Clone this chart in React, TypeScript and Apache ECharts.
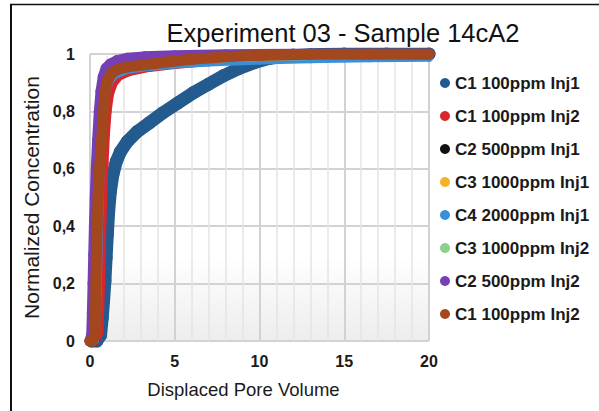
import React, { useEffect, useRef } from "react";
import * as echarts from "echarts";

const titleText = "Experiment 03 - Sample 14cA2";
const xAxisName = "Displaced Pore Volume";
const yAxisName = "Normalized Concentration";
const xMin = 0, xMax = 20, xStep = 5;
const yMin = 0, yMax = 1, yStep = 0.2;

const seriesNames = [
  "C1 100ppm Inj1",
  "C1 100ppm Inj2",
  "C2 500ppm Inj1",
  "C3 1000ppm Inj1",
  "C4 2000ppm Inj1",
  "C3 1000ppm Inj2",
  "C2 500ppm Inj2",
  "C1 100ppm Inj2\u200b",
];
const seriesColors = ["#245b8e", "#d9262c", "#111111", "#f5b323", "#3b8fd8", "#8cd08a", "#7440b3", "#a3471f"];

// [displaced pore volume, normalized concentration]
const c1Inj1 = [[0.1,0],[0.4,0],[0.62,0.02],[0.72,0.08],[0.8,0.14],[0.88,0.21],[0.95,0.29],[1.02,0.37],[1.1,0.45],[1.2,0.52],[1.35,0.58],[1.55,0.625],[1.8,0.66],[2.2,0.695],[2.8,0.73],[3.5,0.76],[4.3,0.795],[5.2,0.83],[6.1,0.865],[7,0.895],[7.9,0.925],[8.8,0.95],[9.7,0.97],[10.6,0.985],[11.6,0.993],[13,0.997],[15,1],[17.5,1],[20,1]];
const c1Inj2 = [[0,0],[0.3,0],[0.5,0.03],[0.55,0.12],[0.6,0.22],[0.64,0.32],[0.68,0.42],[0.73,0.52],[0.8,0.62],[0.88,0.72],[0.98,0.8],[1.12,0.86],[1.35,0.9],[1.7,0.925],[2.3,0.94],[3.5,0.955],[5,0.965],[7.5,0.978],[10,0.988],[13,0.994],[16.5,0.998],[20,1]];
const c2Inj1 = [[0,0],[0.25,0],[0.3,0.1],[0.35,0.25],[0.42,0.4],[0.5,0.55],[0.6,0.7],[0.72,0.82],[0.9,0.9],[1.2,0.94],[1.8,0.96],[3,0.975],[5,0.985],[8,0.992],[12,0.997],[16,1],[20,1]];
const c3Inj1 = [[0,0],[0.2,0],[0.28,0.12],[0.33,0.26],[0.4,0.42],[0.48,0.56],[0.58,0.7],[0.7,0.81],[0.88,0.89],[1.2,0.935],[1.8,0.955],[3,0.97],[5,0.98],[8,0.99],[12,0.996],[16,1],[20,1]];
const c4Inj1 = [[0,0],[0.3,0],[0.42,0.1],[0.48,0.25],[0.53,0.4],[0.6,0.55],[0.68,0.68],[0.78,0.78],[0.92,0.86],[1.15,0.905],[1.5,0.928],[2.2,0.944],[3.5,0.955],[5,0.963],[7,0.97],[10,0.977],[13,0.982],[16.5,0.985],[20,0.987]];
const c3Inj2 = [[0,0],[0.15,0],[0.22,0.1],[0.27,0.22],[0.32,0.35],[0.38,0.48],[0.46,0.62],[0.56,0.74],[0.7,0.84],[0.9,0.9],[1.3,0.94],[2,0.96],[3.5,0.975],[6,0.985],[10,0.993],[15,0.998],[20,1]];
const c2Inj2 = [[0,0],[0.1,0.02],[0.14,0.1],[0.18,0.2],[0.22,0.3],[0.26,0.4],[0.31,0.5],[0.37,0.6],[0.45,0.7],[0.55,0.8],[0.65,0.87],[0.78,0.92],[0.95,0.95],[1.2,0.965],[1.6,0.977],[2.2,0.985],[3.2,0.99],[5,0.994],[8,0.997],[12,1],[16,1],[20,1]];
const c1Inj2b = [[0,0],[0.15,0],[0.28,0.02],[0.32,0.1],[0.35,0.2],[0.38,0.3],[0.42,0.4],[0.48,0.5],[0.56,0.6],[0.66,0.68],[0.76,0.76],[0.84,0.83],[0.92,0.88],[1.05,0.91],[1.3,0.935],[1.7,0.948],[2.3,0.956],[3.2,0.962],[4.5,0.972],[6,0.982],[8,0.99],[10,0.995],[13,0.999],[16.5,1],[20,1]];

const seriesData = [c1Inj1, c1Inj2, c2Inj1, c3Inj1, c4Inj1, c3Inj2, c2Inj2, c1Inj2b];
const seriesWidths = [13, 10, 10, 10, 8, 10, 11, 11];

const FONT = "'Liberation Sans', Arial, Helvetica, sans-serif";

export default function App() {
  const ref = useRef<HTMLDivElement>(null);
  useEffect(() => {
    if (!ref.current) return;
    const chart = echarts.init(ref.current, undefined, { renderer: "svg" });
    const series = seriesNames.map((name, i) => ({
      name,
      type: "line",
      data: seriesData[i],
      z: 2 + i,
      symbol: "circle",
      symbolSize: seriesWidths[i],
      showSymbol: true,
      color: seriesColors[i],
      itemStyle: { color: seriesColors[i] },
      lineStyle: { width: seriesWidths[i], color: seriesColors[i], cap: "round", join: "round" },
      emphasis: { disabled: true },
    }));
    chart.setOption({
      animation: false,
      backgroundColor: "#ffffff",
      textStyle: { fontFamily: FONT },
      grid: {
        left: 90, right: 170, top: 54, bottom: 70,
        show: true, borderWidth: 0,
        backgroundColor: new echarts.graphic.LinearGradient(0, 0, 0, 1, [
          { offset: 0, color: "#ffffff" },
          { offset: 0.7, color: "#ffffff" },
          { offset: 1, color: "#ededed" },
        ]),
      },
      legend: {
        orient: "vertical",
        left: 440,
        top: 73,
        padding: 0,
        icon: "circle",
        itemWidth: 10,
        itemHeight: 10,
        itemGap: 13,
        itemTextGap: 7,
        data: seriesNames,
        formatter: (n: string) => n.replace("\u200b", ""),
        textStyle: { fontFamily: FONT, fontSize: 17, fontWeight: "bold", color: "#1a1a1a", lineHeight: 20 },
      },
      xAxis: {
        type: "value",
        min: xMin, max: xMax, interval: xStep,
        name: xAxisName, nameLocation: "middle", nameGap: 39,
        nameTextStyle: { fontFamily: FONT, fontSize: 18.5, color: "#1a1a1a", padding: [0, 32, 0, 0] },
        axisLine: { show: false }, axisTick: { show: false },
        axisLabel: { fontFamily: FONT, fontSize: 16, fontWeight: "bold", color: "#1a1a1a", margin: 12 },
        splitLine: { show: true, lineStyle: { color: "#d2d2d2", width: 2 } },
        minorTick: { show: false, splitNumber: 5 },
        minorSplitLine: { show: true, lineStyle: { color: "#e4e4e4", width: 1.5 } },
      },
      yAxis: {
        type: "value",
        min: yMin, max: yMax, interval: yStep,
        name: yAxisName, nameLocation: "middle", nameGap: 40,
        nameTextStyle: { fontFamily: FONT, fontSize: 21, color: "#1a1a1a" },
        axisLine: { show: false }, axisTick: { show: false },
        axisLabel: {
          fontFamily: FONT, fontSize: 16, fontWeight: "bold", color: "#1a1a1a", margin: 15,
          formatter: (v: number) => (v === 0 ? "0" : v === 1 ? "1" : v.toFixed(1).replace(".", ",")),
        },
        splitLine: { show: true, lineStyle: { color: "#d2d2d2", width: 2 } },
      },
      graphic: [
        { type: "text", x: 343, y: 33, style: { text: titleText, fontFamily: FONT, fontSize: 25.5, fill: "#111", textAlign: "center", textVerticalAlign: "middle" } },
        { type: "line", shape: { x1: 11, y1: 4, x2: 11, y2: 411 }, style: { stroke: "#111", lineWidth: 2 } },
        { type: "line", shape: { x1: 10, y1: 4.5, x2: 599, y2: 4.5 }, style: { stroke: "#111", lineWidth: 1.5 } },
      ],
      series,
    });
    return () => chart.dispose();
  }, []);
  return <div ref={ref} style={{ position: "absolute", left: 0, top: 0, width: 599, height: 411 }} />;
}
